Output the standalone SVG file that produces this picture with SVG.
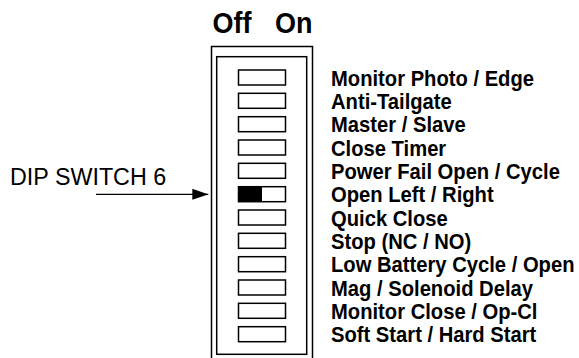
<svg xmlns="http://www.w3.org/2000/svg" width="579" height="358" viewBox="0 0 579 358">
<style>
.ln{fill:none;stroke:#000;stroke-width:1.5}
.sw{fill:#fff;stroke:#000;stroke-width:1.5}
.lbl{font-family:"Liberation Sans",Arial,sans-serif;font-weight:bold;font-size:20.2px;fill:#000}
.hdr{font-family:"Liberation Sans",Arial,sans-serif;font-weight:bold;font-size:27px;fill:#000}
.dip{font-family:"Liberation Sans",Arial,sans-serif;font-size:23.3px;fill:#000}
</style>
<defs>
<marker id="ah" markerWidth="16" markerHeight="11" refX="16" refY="5.5" orient="auto" markerUnits="userSpaceOnUse">
<path d="M0,0 L16,5.5 L0,11 Z" fill="#000"/>
</marker>
</defs>
<rect width="579" height="358" fill="#fff"/>
<g id="header">
<text class="hdr" x="212.5" y="33.5" transform="translate(0,-2.5) scale(1,1.075)">Off</text>
<text class="hdr" x="275" y="33.5" transform="translate(0,-2.5) scale(1,1.075)">On</text>
</g>
<g id="housing">
<path class="ln" d="M211.5,360 V46.5 H312.5 V360"/>
<rect class="ln" x="216.7" y="56.7" width="90" height="297.6"/>
</g>
<g id="switches">
<rect id="sw1" class="sw" x="238.5" y="70" width="47" height="15"/>
<rect id="sw2" class="sw" x="238.5" y="93.3" width="47" height="15"/>
<rect id="sw3" class="sw" x="238.5" y="116.7" width="47" height="15"/>
<rect id="sw4" class="sw" x="238.5" y="140" width="47" height="15"/>
<rect id="sw5" class="sw" x="238.5" y="163.3" width="47" height="15"/>
<g id="sw6">
<rect class="sw" x="238.5" y="186.7" width="47" height="15"/>
<rect x="238.5" y="186.7" width="23.5" height="15" fill="#000"/>
</g>
<rect id="sw7" class="sw" x="238.5" y="210" width="47" height="15"/>
<rect id="sw8" class="sw" x="238.5" y="233.3" width="47" height="15"/>
<rect id="sw9" class="sw" x="238.5" y="256.7" width="47" height="15"/>
<rect id="sw10" class="sw" x="238.5" y="280" width="47" height="15"/>
<rect id="sw11" class="sw" x="238.5" y="303.3" width="47" height="15"/>
<rect id="sw12" class="sw" x="238.5" y="326.7" width="47" height="15"/>
</g>
<g id="labels">
<text class="lbl" transform="translate(331,85.5) scale(1,1.08)">Monitor Photo / Edge</text>
<text class="lbl" transform="translate(331,108.8) scale(1,1.08)">Anti-Tailgate</text>
<text class="lbl" transform="translate(331,132.2) scale(1,1.08)">Master / Slave</text>
<text class="lbl" transform="translate(331,155.5) scale(1,1.08)">Close Timer</text>
<text class="lbl" transform="translate(331,178.8) scale(1,1.08)">Power Fail Open / Cycle</text>
<text class="lbl" transform="translate(331,202.2) scale(1,1.08)">Open Left / Right</text>
<text class="lbl" transform="translate(331,225.5) scale(1,1.08)">Quick Close</text>
<text class="lbl" transform="translate(331,248.8) scale(1,1.08)">Stop (NC / NO)</text>
<text class="lbl" transform="translate(331,272.2) scale(1,1.08)">Low Battery Cycle / Open</text>
<text class="lbl" transform="translate(331,295.5) scale(1,1.08)">Mag / Solenoid Delay</text>
<text class="lbl" transform="translate(331,318.8) scale(1,1.08)">Monitor Close / Op-Cl</text>
<text class="lbl" transform="translate(331,342.2) scale(1,1.08)">Soft Start / Hard Start</text>
</g>
<g id="dip-label">
<text class="dip" x="10" y="185">DIP SWITCH 6</text>
</g>
<g id="connectors">
<line x1="96" y1="194.3" x2="208.3" y2="194.3" stroke="#000" stroke-width="1.3" marker-end="url(#ah)"/>
</g>
</svg>
